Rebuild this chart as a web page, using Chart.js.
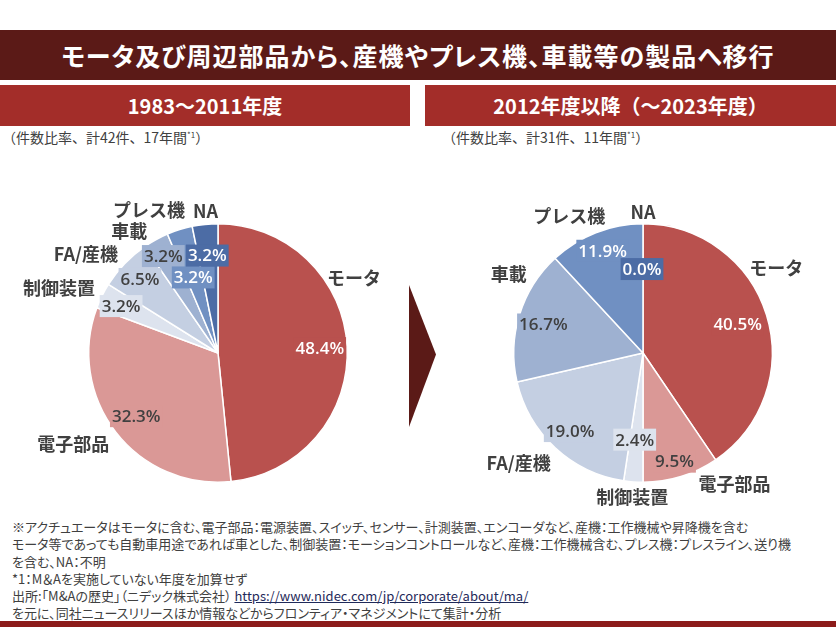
<!DOCTYPE html>
<html lang="ja">
<head>
<meta charset="utf-8">
<script src="https://cdn.jsdelivr.net/npm/chart.js@4.4.1/dist/chart.umd.min.js"></script>
<style>
	body { margin: 0; width: 836px; height: 627px; position: relative; background: #fff; overflow: hidden;
		font-family: "Noto Sans CJK JP", sans-serif; color: #404040; }
	.title { position: absolute; left: 0; top: 30px; width: 836px; height: 50px; background: #5b1a17; color: #fff;
		font-weight: 700; font-size: 25px; line-height: 50px; text-align: center; font-feature-settings: "palt";
		letter-spacing: 1px; }
	.head { position: absolute; top: 85px; height: 41px; background: #a32d29; color: #fff; font-weight: 700;
		font-size: 20px; line-height: 41px; text-align: center; }
	.sub { position: absolute; top: 125px; font-size: 14px; line-height: 20px; }
	.sub sup { font-size: 8px; vertical-align: 5px; }
	.arrow { position: absolute; left: 409px; top: 285px; width: 27px; height: 142px; background: #5b1a17;
		clip-path: polygon( 0 0, 100% 49%, 0 100% ); }
	.notes { position: absolute; left: 12px; top: 518px; font-size: 13px; line-height: 17.3px;
		font-feature-settings: "palt"; white-space: nowrap; }
	.notes a { color: #1f2a5a; }
	.bottom { position: absolute; left: 0; top: 621px; width: 836px; height: 6px; background: #8c1c1a; }
	canvas { position: absolute; }
</style>
</head>
<body>
<div class="title">モータ及び周辺部品から、産機やプレス機、車載等の製品へ移行</div>
<div class="head" style="left:0;width:410px;">1983〜2011年度</div>
<div class="head" style="left:425px;width:411px;">2012年度以降（〜2023年度）</div>
<div class="sub" style="left:2px;">（件数比率、計42件、17年間<sup>*1</sup>）</div>
<div class="sub" style="left:442px;">（件数比率、計31件、11年間<sup>*1</sup>）</div>
<div class="arrow"></div>
<canvas id="pieOld" width="436" height="330" style="left:0;top:180px;"></canvas>
<canvas id="pieNew" width="416" height="330" style="left:420px;top:180px;"></canvas>
<div class="notes">
※アクチュエータはモータに含む、電子部品：電源装置、スイッチ、センサー、計測装置、エンコーダなど、産機：工作機械や昇降機を含む<br>
モータ等であっても自動車用途であれば車とした、制御装置：モーションコントロールなど、産機：工作機械含む、プレス機：プレスライン、送り機<br>
を含む、NA：不明<br>
*1：M＆Aを実施していない年度を加算せず<br>
出所:「M&amp;Aの歴史」（ニデック株式会社） <a href="#">https://www.nidec.com/jp/corporate/about/ma/</a><br>
を元に、同社ニュースリリースほか情報などからフロンティア・マネジメントにて集計・分析
</div>
<div class="bottom"></div>

<script>
	// Categories and shares (%)
	const categories = [ 'モータ', '電子部品', '制御装置', 'FA/産機', '車載', 'プレス機', 'NA' ];
	const share1983 = [ 48.4, 32.3, 3.2, 6.5, 3.2, 3.2, 3.2 ];
	const share2012 = [ 40.5, 9.5, 2.4, 19.0, 16.7, 11.9, 0.0 ];

	const sliceColors = [ '#b9514e', '#da9896', '#dde3ee', '#c4cfe2', '#9eb1d1', '#7090c2', '#4c6ca5' ];
	const valueColors = [ '#fff', '#404040', '#404040', '#404040', '#404040', '#fff', '#fff' ];

	// label nudges in px, from the default spots (names at 1.2r, values at 0.75r)
	const nameNudgeOld = [ [ -19, -67 ], [ -22, -4 ], [ -20, 4 ], [ -20, 8 ], [ -14, 14 ], [ -23, 5 ], [ 3, 12 ] ];
	const valueNudgeOld = [ [ 5, 0 ], [ -5, 4 ], [ -10, -4 ], [ -8, -7 ], [ -8, -12 ], [ 4, 17 ], [ -1, -1 ] ];
	const nameNudgeNew = [ [ -15, -39 ], [ 46, -17 ], [ 1, -11 ], [ -19, -4 ], [ 14, -33 ], [ -17, 8 ], [ 0, 14 ] ];
	const valueNudgeNew = [ [ 2, 0 ], [ 3, 16 ], [ -1, -10 ], [ -7, 7 ], [ -7, 0 ], [ -5, -12 ], [ -1, 13 ] ];

	/**
	 * Draws category names outside and boxed percentages inside each slice
	 */
	const pieLabels = {
		id: 'pieLabels',
		afterDatasetsDraw: function( chart, args, opts ) {
			let ctx = chart.ctx;
			let meta = chart.getDatasetMeta( 0 );
			let values = chart.data.datasets[ 0 ].data;
			ctx.save();
			ctx.textAlign = 'center';
			ctx.textBaseline = 'middle';
			meta.data.forEach( function( arc, i ) {
				let p = arc.getProps( [ 'x', 'y', 'startAngle', 'endAngle', 'outerRadius' ], true );
				let mid = ( p.startAngle + p.endAngle ) / 2;
				let cos = Math.cos( mid ), sin = Math.sin( mid );

				// value
				let vx = p.x + cos * p.outerRadius * 0.75 + opts.valueNudge[ i ][ 0 ];
				let vy = p.y + sin * p.outerRadius * 0.75 + opts.valueNudge[ i ][ 1 ];
				let txt = values[ i ].toFixed( 1 ) + '%';
				ctx.font = '600 17px "Open Sans", "Noto Sans", sans-serif';
				let w = ctx.measureText( txt ).width;
				ctx.fillStyle = sliceColors[ i ];
				ctx.fillRect( vx - w / 2 - 2, vy - 11, w + 4, 22 );
				ctx.fillStyle = valueColors[ i ];
				ctx.fillText( txt, vx, vy + 1 );

				// category name
				let nx = p.x + cos * p.outerRadius * 1.2 + opts.nameNudge[ i ][ 0 ];
				let ny = p.y + sin * p.outerRadius * 1.2 + opts.nameNudge[ i ][ 1 ];
				ctx.font = 'bold 18px "Noto Sans CJK JP", sans-serif';
				ctx.fillStyle = '#404040';
				ctx.fillText( categories[ i ], nx, ny );
			} );
			ctx.restore();
		}
	};

	function makePie( id, values, padding, nameNudge, valueNudge ) {
		return new Chart( document.getElementById( id ), {
			type: 'pie',
			data: {
				labels: categories,
				datasets: [ {
					data: values,
					backgroundColor: sliceColors,
					borderColor: '#fff',
					borderWidth: 1.5
				} ]
			},
			options: {
				responsive: false,
				animation: false,
				layout: { padding: padding },
				plugins: {
					legend: { display: false },
					tooltip: { enabled: false },
					pieLabels: { nameNudge: nameNudge, valueNudge: valueNudge }
				}
			},
			plugins: [ pieLabels ]
		} );
	}

	makePie( 'pieOld', share1983, { left: 88, right: 88, top: 43, bottom: 27 }, nameNudgeOld, valueNudgeOld );
	makePie( 'pieNew', share2012, { left: 93, right: 63, top: 43, bottom: 27 }, nameNudgeNew, valueNudgeNew );
</script>
</body>
</html>
